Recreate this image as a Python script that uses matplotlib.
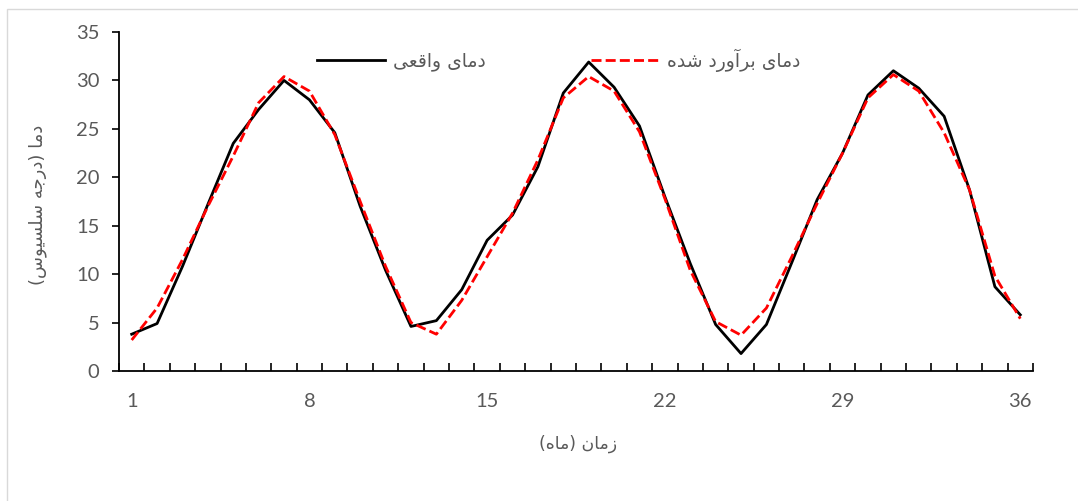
import numpy as np
import matplotlib
matplotlib.use('Agg')
import matplotlib.pyplot as plt
from matplotlib.patches import Rectangle

# داده‌ها (خوانده شده از نمودار)
months = list(range(1, 37))
actual = [3.8, 4.9, 10.8, 17.2, 23.5, 27.0, 30.0, 28.0, 24.6, 17.0, 10.4, 4.6,
          5.2, 8.4, 13.5, 16.1, 21.1, 28.7, 31.9, 29.3, 25.3, 18.0, 11.1, 4.8,
          1.8, 4.8, 11.2, 17.7, 22.5, 28.5, 31.0, 29.2, 26.3, 18.7, 8.7, 5.8]
predicted = [3.2, 6.5, 11.5, 17.0, 22.2, 27.7, 30.4, 28.9, 24.4, 17.5, 10.8, 5.0,
             3.8, 7.3, 11.8, 16.3, 21.8, 28.2, 30.4, 28.9, 24.7, 17.8, 10.4, 5.1,
             3.7, 6.5, 11.8, 17.3, 22.5, 28.2, 30.6, 28.9, 24.6, 18.7, 9.8, 5.4]
x_labels = [1, 8, 15, 22, 29, 36]
y_ticks = [0, 5, 10, 15, 20, 25, 30, 35]

label_actual = 'دمای واقعی'
label_pred = 'دمای برآورد شده'
label_y = 'دما (درجه سلسیوس)'
label_x = 'زمان (ماه)'

# شکل‌دهی ساده حروف فارسی (matplotlib خودش اتصال حروف را انجام نمی‌دهد)
FORMS = {
    'ا': ('\uFE8D', '\uFE8E', None, None),
    'آ': ('\uFE81', '\uFE82', None, None),
    'ب': ('\uFE8F', '\uFE90', '\uFE91', '\uFE92'),
    'ج': ('\uFE9D', '\uFE9E', '\uFE9F', '\uFEA0'),
    'د': ('\uFEA9', '\uFEAA', None, None),
    'ر': ('\uFEAD', '\uFEAE', None, None),
    'ز': ('\uFEAF', '\uFEB0', None, None),
    'س': ('\uFEB1', '\uFEB2', '\uFEB3', '\uFEB4'),
    'ش': ('\uFEB5', '\uFEB6', '\uFEB7', '\uFEB8'),
    'ع': ('\uFEC9', '\uFECA', '\uFECB', '\uFECC'),
    'ق': ('\uFED5', '\uFED6', '\uFED7', '\uFED8'),
    'ل': ('\uFEDD', '\uFEDE', '\uFEDF', '\uFEE0'),
    'م': ('\uFEE1', '\uFEE2', '\uFEE3', '\uFEE4'),
    'ن': ('\uFEE5', '\uFEE6', '\uFEE7', '\uFEE8'),
    'ه': ('\uFEE9', '\uFEEA', '\uFEEB', '\uFEEC'),
    'و': ('\uFEED', '\uFEEE', None, None),
    'ی': ('\uFBFC', '\uFBFD', '\uFBFE', '\uFBFF'),
}
MIRROR = {'(': ')', ')': '('}


def shape(text):
    out = []
    for i, ch in enumerate(text):
        if ch not in FORMS:
            out.append(MIRROR.get(ch, ch))
            continue
        prev = text[i - 1] if i > 0 else ''
        nxt = text[i + 1] if i + 1 < len(text) else ''
        join_prev = prev in FORMS and FORMS[prev][2] is not None
        join_next = FORMS[ch][2] is not None and nxt in FORMS
        iso, fin, ini, med = FORMS[ch]
        if join_prev and join_next:
            out.append(med)
        elif join_next:
            out.append(ini)
        elif join_prev:
            out.append(fin)
        else:
            out.append(iso)
    return ''.join(reversed(out))


gray = '#595959'
plt.rcParams['font.family'] = ['Lato', 'DejaVu Sans']

fig = plt.figure(figsize=(10.78, 5.01), dpi=100)
fig.patches.append(Rectangle((7 / 1078, -0.1), 1.2, 1 - 9 / 501 + 0.1,
                             transform=fig.transFigure, fill=False,
                             edgecolor='#d9d9d9', linewidth=1.0))
ax = fig.add_axes([119 / 1078, 1 - 371 / 501, 914 / 1078, 339 / 501])

ax.plot(months, actual, color='black', lw=2.0, label=shape(label_actual))
ax.plot(months, predicted, color='#ff0000', lw=2.0, linestyle=(0, (3.6, 1.5)),
        label=shape(label_pred))

ax.set_xlim(0.5, 36.5)
ax.set_ylim(0, 35)
ax.set_yticks(y_ticks)
ax.set_xticks(x_labels)
ax.set_xticks(np.arange(0.5, 37, 1), minor=True)
ax.tick_params(axis='x', which='major', length=0, pad=16, labelsize=14.5, labelcolor=gray)
ax.tick_params(axis='x', which='minor', direction='in', length=6, width=1.2, color='black')
ax.tick_params(axis='y', direction='out', length=5, width=1.2, pad=9, labelsize=14.5,
               labelcolor=gray)
for s in ['top', 'right']:
    ax.spines[s].set_visible(False)
for s in ['left', 'bottom']:
    ax.spines[s].set_linewidth(1.3)

leg = ax.legend(ncol=2, loc='center', bbox_to_anchor=(0.481, 0.917), frameon=False,
                handlelength=3.6, handletextpad=0.45, columnspacing=5.6,
                prop={'family': 'DejaVu Sans', 'size': 13.5})
for t in leg.get_texts():
    t.set_color(gray)

fig.text(578 / 1078, 1 - 444 / 501, shape(label_x), ha='center', va='center',
         fontsize=12.5, color=gray, family='DejaVu Sans')
fig.text(38 / 1078, 1 - 205 / 501, shape(label_y), ha='center', va='center',
         rotation=90, fontsize=13, color=gray, family='DejaVu Sans')

fig.savefig('out.png', dpi=100)
